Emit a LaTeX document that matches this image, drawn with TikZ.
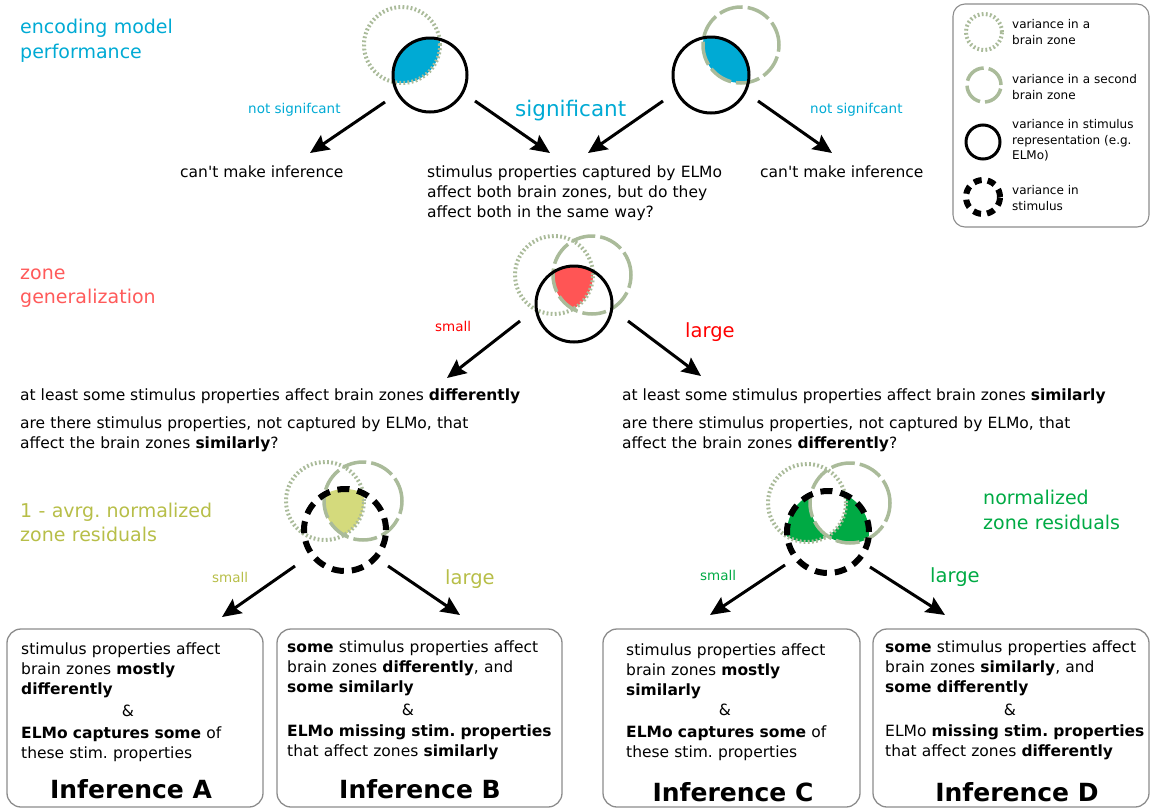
\documentclass[tikz,border=0pt]{standalone}
\usepackage{fontspec}
\setmainfont{DejaVu Sans}[Ligatures=TeXOff]
\usetikzlibrary{arrows.meta}
\definecolor{cyanA}{HTML}{00AAD4}
\definecolor{sage}{HTML}{AABB9A}
\definecolor{redT}{HTML}{FF5A5A}
\definecolor{redS}{HTML}{FF0000}
\definecolor{redF}{HTML}{FF5555}
\definecolor{oliveT}{HTML}{B7BE48}
\definecolor{oliveF}{HTML}{D4DA7C}
\definecolor{greenA}{HTML}{00AA44}
\definecolor{boxgray}{HTML}{8C8C8C}
\frenchspacing
\begin{document}
\begin{tikzpicture}[x=1pt,y=-1pt,
 zoneone/.style={draw=sage,line width=4pt,dash pattern=on 1.8pt off 2.3pt},
 zonetwo/.style={draw=sage,line width=3.5pt,dash pattern=on 24pt off 5pt},
 stimrep/.style={draw=black,line width=3pt},
 stimall/.style={draw=black,line width=6pt,dash pattern=on 12pt off 8pt},
 arr/.style={line width=3pt,-{Stealth[length=19pt,width=17pt,inset=3pt]}},
 txt/.style={inner sep=0pt,anchor=base west,font=\fontsize{15.5}{20}\selectfont},
 mtxt/.style={txt,text width=700pt,align=left},
 ctxt/.style={inner sep=0pt,anchor=base,font=\fontsize{15.5}{20}\selectfont},
 title/.style={inner sep=0pt,anchor=base,font=\fontsize{25}{28}\selectfont\bfseries},
 head/.style={inner sep=0pt,anchor=base west,text width=300pt,align=left,font=\fontsize{19}{24.5}\selectfont},
 smalllab/.style={inner sep=0pt,anchor=base west,font=\fontsize{13.5}{16}\selectfont},
 biglab/.style={inner sep=0pt,anchor=base west,font=\fontsize{19.5}{22}\selectfont},
 legtxt/.style={inner sep=0pt,anchor=base west,text width=150pt,align=left,font=\fontsize{12}{15.5}\selectfont},
 infbox/.style={draw=boxgray,line width=1.3pt,rounded corners=14pt,inner sep=0pt},
]
\useasboundingbox (0,0) rectangle (1151,809);

% ---------- legend ----------
\node[infbox,rounded corners=12pt,line width=1.1pt,minimum width=196pt,minimum height=223pt] (legend) at (1051,115.5) {};
\draw[zoneone] (984,32) circle (18pt);
\draw[zonetwo,dash pattern=on 22pt off 5pt] (984,85) circle (17pt);
\draw[stimrep] (983,142) circle (17pt);
\draw[stimall,dash pattern=on 8pt off 6pt] (983,197) circle (17pt);
\node[legtxt] (l1) at (1012,28.5) {variance in a\\brain zone};
\node[legtxt] (l2) at (1012,83.5) {variance in a second\\brain zone};
\node[legtxt] (l3) at (1012,128.5) {variance in stimulus\\representation (e.g.\\ELMo)};
\node[legtxt] (l4) at (1012,194.5) {variance in\\stimulus};

% ---------- top row ----------
\node[head,text=cyanA] (h1) at (20,33.5) {encoding model\\performance};
% left venn
\begin{scope}
 \clip (402,45) circle (38pt);
 \fill[cyanA] (430,75) circle (37pt);
\end{scope}
\draw[zoneone] (402,45) circle (38pt);
\draw[stimrep] (430,75) circle (37pt);
% right venn
\begin{scope}
 \clip (741,45) circle (38pt);
 \fill[cyanA] (711,75) circle (38pt);
\end{scope}
\draw[zonetwo] (741,45) circle (38pt);
\draw[stimrep] (711,75) circle (38pt);

\node[smalllab,text=cyanA] (ns1) at (248,113) {not signifcant};
\node[biglab,font=\fontsize{21.5}{24}\selectfont,text=cyanA] (sig) at (515,116) {significant};
\node[smalllab,text=cyanA] (ns2) at (810,113) {not signifcant};

\node[txt] (cm1) at (180,177) {can't make inference};
\node[mtxt] (both) at (427,177) {stimulus properties captured by ELMo\\affect both brain zones, but do they\\affect both in the same way?};
\node[txt] (cm2) at (760,177) {can't make inference};

\coordinate (a1s) at (385,102); \coordinate (a1e) at (310,153);
\coordinate (a2s) at (475,101); \coordinate (a2e) at (550,153);
\coordinate (a3s) at (663,101); \coordinate (a3e) at (588,153);
\coordinate (a4s) at (758,101); \coordinate (a4e) at (832,153);
\draw[arr] (a1s) -- (a1e);
\draw[arr] (a2s) -- (a2e);
\draw[arr] (a3s) -- (a3e);
\draw[arr] (a4s) -- (a4e);

% ---------- middle row ----------
\node[head,text=redT] (h2) at (20,279) {zone\\generalization};
\begin{scope}
 \clip (554,275) circle (39pt);
 \clip (592,275) circle (39pt);
 \fill[redF] (574,304) circle (38pt);
\end{scope}
\draw[zoneone] (554,275) circle (39pt);
\draw[zonetwo] (592,275) circle (39pt);
\draw[stimrep] (574,304) circle (38pt);

\node[smalllab,text=redS] (sm1) at (435,331) {small};
\node[biglab,text=redS] (lg1) at (685,337) {large};
\coordinate (b1s) at (520,321); \coordinate (b1e) at (447,378);
\coordinate (b2s) at (628,321); \coordinate (b2e) at (701,376);
\draw[arr] (b1s) -- (b1e);
\draw[arr] (b2s) -- (b2e);

\node[txt] (d1) at (20,400) {at least some stimulus properties affect brain zones \textbf{differently}};
\node[mtxt] (d2) at (20,428) {are there stimulus properties, not captured by ELMo, that\\affect the brain zones \textbf{similarly}?};
\node[txt] (s1) at (622,400) {at least some stimulus properties affect brain zones \textbf{similarly}};
\node[mtxt] (s2) at (622,428) {are there stimulus properties, not captured by ELMo, that\\affect the brain zones \textbf{differently}?};

% ---------- bottom left ----------
\node[head,text=oliveT] (h3) at (20,517) {1 - avrg. normalized\\zone residuals};
\begin{scope}
 \clip (325,501) circle (39pt);
 \clip (363,501) circle (39pt);
 \fill[oliveF] (345,530) circle (41pt);
\end{scope}
\draw[zoneone] (325,501) circle (39pt);
\draw[zonetwo] (363,501) circle (39pt);
\draw[stimall] (345,530) circle (41pt);
\node[smalllab,text=oliveT] (sm2) at (212,582) {small};
\node[biglab,text=oliveT] (lg2) at (445,584) {large};
\coordinate (c1s) at (295,566); \coordinate (c1e) at (222,617);
\coordinate (c2s) at (388,566); \coordinate (c2e) at (460,615);
\draw[arr] (c1s) -- (c1e);
\draw[arr] (c2s) -- (c2e);

% ---------- bottom right ----------
\node[head,text=greenA] (h4) at (983,504.5) {normalized\\zone residuals};
\begin{scope}
 \clip (828,532) circle (41pt);
 \fill[greenA,even odd rule] (807,503) circle (39pt) (850,503) circle (40pt);
\end{scope}
\draw[zoneone] (807,503) circle (39pt);
\draw[zonetwo] (850,503) circle (40pt);
\draw[stimall] (828,532) circle (41pt);
\node[smalllab,text=greenA] (sm3) at (700,580) {small};
\node[biglab,text=greenA] (lg3) at (930,582) {large};
\coordinate (e1s) at (785,565); \coordinate (e1e) at (710,615);
\coordinate (e2s) at (870,567); \coordinate (e2e) at (945,615);
\draw[arr] (e1s) -- (e1e);
\draw[arr] (e2s) -- (e2e);

% ---------- inference boxes ----------
\node[infbox,minimum width=256pt,minimum height=178pt] (boxA) at (135,718) {};
\node[infbox,minimum width=285pt,minimum height=178pt] (boxB) at (419.5,718) {};
\node[infbox,minimum width=257pt,minimum height=178pt] (boxC) at (731.5,718) {};
\node[infbox,minimum width=276pt,minimum height=178pt] (boxD) at (1011,718) {};

\node[mtxt] (A1) at (21,654) {stimulus properties affect\\brain zones \textbf{mostly}\\\textbf{differently}};
\node[ctxt] (A2) at (128,716) {\&};
\node[mtxt] (A3) at (21,738) {\textbf{ELMo captures some} of\\these stim. properties};
\node[title] (A4) at (131,798) {Inference A};

\node[mtxt] (B1) at (287,652) {\textbf{some} stimulus properties affect\\brain zones \textbf{differently}, and\\\textbf{some similarly}};
\node[ctxt] (B2) at (408,715) {\&};
\node[mtxt] (B3) at (287,736) {\textbf{ELMo missing stim. properties}\\that affect zones \textbf{similarly}};
\node[title] (B4) at (420,798) {Inference B};

\node[mtxt] (C1) at (626,655) {stimulus properties affect\\brain zones \textbf{mostly}\\\textbf{similarly}};
\node[ctxt] (C2) at (725,715) {\&};
\node[mtxt] (C3) at (626,737) {\textbf{ELMo captures some} of\\these stim. properties};
\node[title] (C4) at (733,801) {Inference C};

\node[mtxt] (D1) at (885,652) {\textbf{some} stimulus properties affect\\brain zones \textbf{similarly}, and\\\textbf{some differently}};
\node[ctxt] (D2) at (1010,715) {\&};
\node[mtxt] (D3) at (885,736) {ELMo \textbf{missing stim. properties}\\that affect zones \textbf{differently}};
\node[title] (D4) at (1017,801) {Inference D};
\end{tikzpicture}
\end{document}
